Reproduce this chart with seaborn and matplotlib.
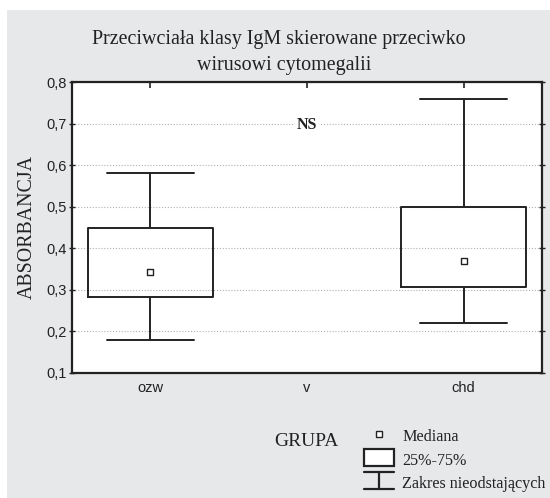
import numpy as np
import pandas as pd
import matplotlib
matplotlib.use("Agg")
import matplotlib.pyplot as plt
from matplotlib.lines import Line2D
from matplotlib.patches import Rectangle
from matplotlib.ticker import FuncFormatter
import seaborn as sns

# ---- data ----
order = ["ozw", "v", "chd"]
groups = ["ozw", "chd"]
minimum = [0.18, 0.22]
q1 = [0.283, 0.308]
median = [0.343, 0.369]
q3 = [0.448, 0.50]
maximum = [0.58, 0.76]
y_ticks = [0.1, 0.2, 0.3, 0.4, 0.5, 0.6, 0.7, 0.8]

title_lines = ["Przeciwciała klasy IgM skierowane przeciwko", "wirusowi cytomegalii"]
y_label = "ABSORBANCJA"
annotation = "NS"
legend_title = "GRUPA"
legend_labels = ["Mediana", "25%-75%", "Zakres nieodstających"]

# five summary values per group -> quartiles reproduce exactly with linear percentiles
rows = []
for g, a, b, c, d, e in zip(groups, minimum, q1, median, q3, maximum):
    for v in (a, b, c, d, e):
        rows.append({"GRUPA": g, "val": v})
df = pd.DataFrame(rows)
med_df = pd.DataFrame({"GRUPA": groups, "val": median})

sns.set_theme(style="white")
plt.rcParams["font.family"] = ["Liberation Sans", "DejaVu Sans"]

W, H = 550, 498
fig = plt.figure(figsize=(W / 100, H / 100), dpi=100, facecolor="white")
BG = "#e7e8ea"
fig.add_artist(Rectangle((7 / W, 0), 1 - 7 / W, 1 - 10 / H, transform=fig.transFigure,
                         facecolor=BG, edgecolor="none", zorder=-10))

ax = fig.add_axes([72 / W, 1 - 373 / H, (542 - 72) / W, (373 - 82) / H])
ax.set_facecolor("white")

LC = "#222222"
sns.boxplot(data=df, x="GRUPA", y="val", order=order, whis=(0, 100), width=0.8,
            fill=False, color=LC, linewidth=1.4, capwidths=0.555,
            medianprops={"visible": False}, showfliers=False, ax=ax)
sns.stripplot(data=med_df, x="GRUPA", y="val", order=order, jitter=False, marker="s",
              size=5, color="white", edgecolor=LC, linewidth=1.0, ax=ax, zorder=5)

ax.set_xlim(-0.5, 2.5)
ax.set_ylim(y_ticks[0], y_ticks[-1])
ax.set_yticks(y_ticks)
ax.yaxis.set_major_formatter(FuncFormatter(lambda v, p: f"{v:.1f}".replace(".", ",")))
ax.set_xticks(range(len(order)))
ax.set_xticklabels(order)
ax.set_xlabel("")
ax.set_ylabel("")

ax.grid(axis="y", color="#b0b0b0", linestyle=(0, (1.0, 1.6)), linewidth=0.8)
ax.set_axisbelow(True)
for s in ax.spines.values():
    s.set_visible(True)
    s.set_color(LC)
    s.set_linewidth(1.6)

ax.tick_params(axis="x", bottom=False, top=True, direction="in", length=4, width=1.2,
               color=LC, labelsize=10.5, labelcolor="#222222", pad=6)
ax.tick_params(axis="y", left=True, right=True, direction="inout", length=4, width=1.0,
               color=LC, labelsize=10.5, labelcolor="#222222", pad=2)

serif = ["Liberation Serif", "DejaVu Serif"]
ax.text(1, 0.697, annotation, ha="center", va="center", fontsize=11.5, fontweight="bold",
        family=serif, color="#222222",
        bbox=dict(facecolor="white", edgecolor="none", pad=1.5))

fig.text(279 / W, 1 - 44 / H, title_lines[0], ha="center", va="baseline",
         fontsize=14.4, family=serif, color="#222222")
fig.text(284 / W, 1 - 70 / H, title_lines[1], ha="center", va="baseline",
         fontsize=14.4, family=serif, color="#222222")
fig.text(27 / W, 1 - 227 / H, y_label, ha="center", va="center", rotation=90,
         fontsize=14.3, family=serif, color="#222222")

# ---- legend (drawn in figure pixel coordinates) ----
def fx(x):
    return x / W

def fy(y):
    return 1 - y / H

fig.text(fx(274), fy(441), legend_title, ha="left", va="center", fontsize=14,
         family=serif, color="#222222")
fig.add_artist(Line2D([fx(379)], [fy(434)], marker="s", markersize=5, markerfacecolor="white",
                      markeredgecolor=LC, markeredgewidth=1.0, linestyle="none",
                      transform=fig.transFigure))
fig.add_artist(Rectangle((fx(364), fy(466)), (394 - 364) / W, (466 - 449) / H,
                         transform=fig.transFigure, facecolor="white", edgecolor=LC,
                         linewidth=1.6))
fig.add_artist(Line2D([fx(364), fx(394)], [fy(472), fy(472)], color=LC, linewidth=1.6,
                      transform=fig.transFigure))
fig.add_artist(Line2D([fx(364), fx(394)], [fy(489), fy(489)], color=LC, linewidth=1.6,
                      transform=fig.transFigure))
fig.add_artist(Line2D([fx(379), fx(379)], [fy(472), fy(489)], color=LC, linewidth=1.6,
                      transform=fig.transFigure))
for txt, yy in zip(legend_labels, [437, 461, 484]):
    fig.text(fx(402), fy(yy), txt, ha="left", va="center", fontsize=11.6,
             family=serif, color="#222222")

fig.savefig("out.png", dpi=100, facecolor=fig.get_facecolor())
